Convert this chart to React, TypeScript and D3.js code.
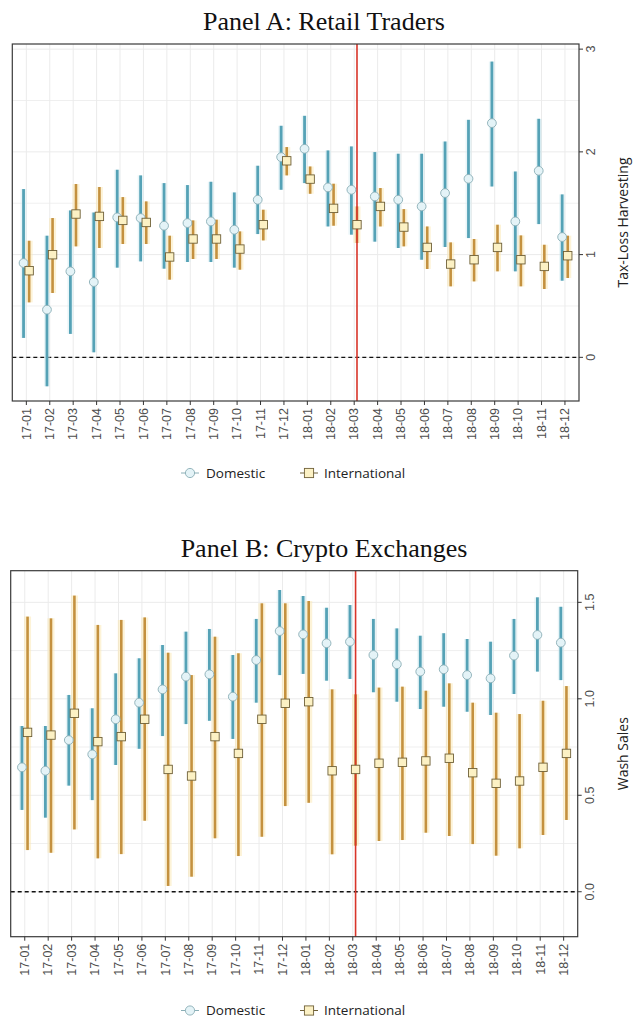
import React from "react";
import * as d3 from "d3";

const months = ["17-01","17-02","17-03","17-04","17-05","17-06","17-07","17-08","17-09","17-10","17-11","17-12","18-01","18-02","18-03","18-04","18-05","18-06","18-07","18-08","18-09","18-10","18-11","18-12"];
const treatMonth = "18-03";

// Panel A: Retail Traders (Tax-Loss Harvesting)
const domA = [0.918,0.464,0.837,0.733,1.362,1.356,1.281,1.307,1.323,1.242,1.534,1.949,2.03,1.654,1.631,1.566,1.534,1.469,1.599,1.738,2.28,1.323,1.816,1.171];
const domALo = [0.189,-0.282,0.228,0.049,0.873,0.934,0.863,0.928,0.928,0.873,1.2,1.631,1.696,1.274,1.194,1.126,1.064,0.95,1.074,1.161,1.663,0.837,1.297,0.746];
const domAHi = [1.638,1.184,1.43,1.41,1.826,1.771,1.696,1.677,1.709,1.605,1.865,2.254,2.351,2.014,2.053,1.998,1.982,1.982,2.101,2.312,2.879,1.809,2.322,1.586];
const intA = [0.843,0.999,1.395,1.372,1.333,1.313,0.977,1.152,1.152,1.054,1.291,1.913,1.735,1.45,1.291,1.469,1.268,1.07,0.908,0.95,1.07,0.95,0.885,0.989];
const intALo = [0.535,0.626,1.08,1.064,1.103,1.103,0.756,0.957,0.957,0.853,1.138,1.771,1.592,1.281,1.113,1.274,1.08,0.86,0.691,0.739,0.837,0.691,0.665,0.772];
const intAHi = [1.135,1.356,1.687,1.658,1.56,1.518,1.184,1.333,1.34,1.226,1.437,2.047,1.858,1.69,1.469,1.648,1.443,1.274,1.119,1.152,1.291,1.187,1.096,1.184];
const ticksA = [0, 1, 2, 3];
const minorA = [0.5, 1.5, 2.5];
const tickLabelsA = ["0", "1", "2", "3"];

// Panel B: Crypto Exchanges (Wash Sales)
const domB = [0.645,0.627,0.786,0.712,0.894,0.98,1.049,1.115,1.127,1.011,1.201,1.351,1.334,1.288,1.296,1.227,1.179,1.141,1.153,1.123,1.106,1.224,1.331,1.291];
const domBLo = [0.424,0.384,0.55,0.475,0.657,0.741,0.807,0.869,0.886,0.792,0.98,1.123,1.129,1.094,1.103,1.034,0.985,0.947,0.959,0.933,0.916,1.025,1.141,1.097];
const domBHi = [0.859,0.859,1.02,0.951,1.132,1.21,1.279,1.348,1.362,1.227,1.414,1.564,1.533,1.472,1.486,1.414,1.365,1.327,1.34,1.31,1.296,1.414,1.526,1.477];
const intB = [0.826,0.812,0.925,0.778,0.804,0.894,0.634,0.6,0.804,0.717,0.894,0.977,0.985,0.627,0.634,0.666,0.671,0.678,0.692,0.617,0.562,0.574,0.645,0.717];
const intBLo = [0.216,0.202,0.323,0.173,0.195,0.368,0.03,0.078,0.277,0.185,0.285,0.444,0.461,0.194,0.239,0.263,0.268,0.306,0.289,0.247,0.187,0.225,0.294,0.372];
const intBHi = [1.426,1.417,1.535,1.383,1.409,1.422,1.239,1.123,1.322,1.236,1.495,1.495,1.507,1.049,1.023,1.058,1.063,1.042,1.08,0.98,0.928,0.921,0.99,1.066];
const ticksB = [0, 0.5, 1, 1.5];
const minorB = [0.25, 0.75, 1.25];
const tickLabelsB = ["0.0", "0.5", "1.0", "1.5"];

const seriesNames = ["Domestic", "International"];

const DOM_LINE = "#55a2b6";
const DOM_FILL = "#e4f3f7";
const DOM_STROKE = "#8aaeb6";
const INT_LINE = "#c4913f";
const INT_FILL = "#fcf1c4";
const INT_STROKE = "#6f6038";
const GRID = "#ebebeb";
const TICK_FONT = "'Liberation Sans', Arial, sans-serif";
const LABEL_FONT = "'Open Sans', 'Noto Sans', sans-serif";

type PanelProps = {
  title: string;
  yTitle: string;
  top: number;
  left: number;
  right: number;
  bottom: number;
  domain: [number, number];
  ticks: number[];
  minor: number[];
  tickLabels: string[];
  dom: number[]; domLo: number[]; domHi: number[];
  int: number[]; intLo: number[]; intHi: number[];
  titleY: number;
  legendY: number;
};

function Panel(p: PanelProps) {
  const x = d3.scalePoint<string>().domain(months).range([p.left, p.right]).padding(0.6);
  const y = d3.scaleLinear().domain(p.domain).range([p.bottom, p.top]);
  const dodge = 2.8;
  const xr = (x(treatMonth) as number) + dodge;
  const midY = (p.top + p.bottom) / 2;
  return (
    <g>
      <text x={324} y={p.titleY} textAnchor="middle" fontFamily="'Liberation Serif', 'Times New Roman', serif" fontSize={26} fill="#111">{p.title}</text>
      {/* grid */}
      {p.minor.map((t) => (
        <line key={"mn" + t} x1={p.left} x2={p.right} y1={y(t)} y2={y(t)} stroke={GRID} strokeWidth={0.8} />
      ))}
      {p.ticks.map((t) => (
        <line key={"mj" + t} x1={p.left} x2={p.right} y1={y(t)} y2={y(t)} stroke={GRID} strokeWidth={1} />
      ))}
      {months.map((m) => (
        <line key={"vg" + m} x1={x(m)} x2={x(m)} y1={p.top} y2={p.bottom} stroke={GRID} strokeWidth={1} />
      ))}
      <line x1={p.left} x2={p.right} y1={y(0)} y2={y(0)} stroke="#111" strokeWidth={1.3} strokeDasharray="4,3" />
      {/* halos */}
      {months.map((m, i) => (
        <g key={"h" + m}>
          <line x1={(x(m) as number) - dodge} x2={(x(m) as number) - dodge} y1={y(p.domLo[i])} y2={y(p.domHi[i])} stroke="#cfe9f0" strokeOpacity={0.45} strokeWidth={6} />
          <line x1={(x(m) as number) + dodge} x2={(x(m) as number) + dodge} y1={y(p.intLo[i])} y2={y(p.intHi[i])} stroke="#fbe7b0" strokeOpacity={0.5} strokeWidth={7} />
        </g>
      ))}
      {/* whiskers */}
      {months.map((m, i) => (
        <g key={"w" + m}>
          <line x1={(x(m) as number) - dodge} x2={(x(m) as number) - dodge} y1={y(p.domLo[i])} y2={y(p.domHi[i])} stroke={DOM_LINE} strokeWidth={2.8} />
          <line x1={(x(m) as number) + dodge} x2={(x(m) as number) + dodge} y1={y(p.intLo[i])} y2={y(p.intHi[i])} stroke={INT_LINE} strokeWidth={2.6} />
        </g>
      ))}
      <line x1={xr} x2={xr} y1={p.top} y2={p.bottom} stroke="#d8352a" strokeWidth={1.6} />
      {/* points */}
      {months.map((m, i) => (
        <g key={"p" + m}>
          <circle cx={(x(m) as number) - dodge} cy={y(p.dom[i])} r={4.4} fill={DOM_FILL} stroke={DOM_STROKE} strokeWidth={0.9} />
          <rect x={(x(m) as number) + dodge - 4.2} y={y(p.int[i]) - 4.2} width={8.4} height={8.4} fill={INT_FILL} stroke={INT_STROKE} strokeWidth={0.9} />
        </g>
      ))}
      {/* border */}
      <rect x={p.left} y={p.top} width={p.right - p.left} height={p.bottom - p.top} fill="none" stroke="#3a3a3a" strokeWidth={1.2} />
      {/* x axis */}
      {months.map((m) => (
        <g key={"xt" + m} transform={`translate(${x(m)},${p.bottom})`}>
          <line y1={0} y2={4} stroke="#333" strokeWidth={1} />
          <text transform="translate(4.3,7) rotate(-90)" textAnchor="end" fontFamily={TICK_FONT} fontSize={12.5} fill="#4d4d4d">{m}</text>
        </g>
      ))}
      {/* y axis (right) */}
      {p.ticks.map((t, i) => (
        <g key={"yt" + t} transform={`translate(${p.right},${y(t)})`}>
          <line x1={0} x2={4} stroke="#333" strokeWidth={1} />
          <text transform="translate(16,0) rotate(-90)" textAnchor="middle" fontFamily={TICK_FONT} fontSize={12.5} fill="#4d4d4d">{p.tickLabels[i]}</text>
        </g>
      ))}
      <text transform={`translate(628,${midY}) rotate(-90)`} textAnchor="middle" fontFamily={LABEL_FONT} fontSize={14} fill="#222">{p.yTitle}</text>
      {/* legend */}
      <g transform={`translate(190,${p.legendY})`}>
        <line x1={-9} x2={9} y1={0} y2={0} stroke={DOM_STROKE} strokeWidth={1} />
        <circle cx={0} cy={0} r={4.6} fill={DOM_FILL} stroke={DOM_STROKE} strokeWidth={0.9} />
        <text x={16} y={4.6} fontFamily={LABEL_FONT} fontSize={13.5} fill="#222">{seriesNames[0]}</text>
      </g>
      <g transform={`translate(309,${p.legendY})`}>
        <line x1={-9} x2={9} y1={0} y2={0} stroke={INT_STROKE} strokeWidth={1} />
        <rect x={-4.6} y={-4.6} width={9.2} height={9.2} fill={INT_FILL} stroke={INT_STROKE} strokeWidth={0.9} />
        <text x={15} y={4.6} fontFamily={LABEL_FONT} fontSize={13.5} fill="#222">{seriesNames[1]}</text>
      </g>
    </g>
  );
}

export default function App() {
  return (
    <svg width={633} height={1020} style={{ position: "absolute", left: 0, top: 0, background: "#fff" }}>
      <rect width={633} height={1020} fill="#fff" />
      <Panel title="Panel A: Retail Traders" yTitle="Tax-Loss Harvesting" titleY={30}
        top={44} left={12.3} right={579} bottom={401} domain={[-0.425, 3.05]}
        ticks={ticksA} minor={minorA} tickLabels={tickLabelsA}
        dom={domA} domLo={domALo} domHi={domAHi} int={intA} intLo={intALo} intHi={intAHi}
        legendY={473} />
      <Panel title="Panel B: Crypto Exchanges" yTitle="Wash Sales" titleY={557}
        top={570.7} left={10.7} right={577.7} bottom={936.7} domain={[-0.233, 1.664]}
        ticks={ticksB} minor={minorB} tickLabels={tickLabelsB}
        dom={domB} domLo={domBLo} domHi={domBHi} int={intB} intLo={intBLo} intHi={intBHi}
        legendY={1010.5} />
    </svg>
  );
}
